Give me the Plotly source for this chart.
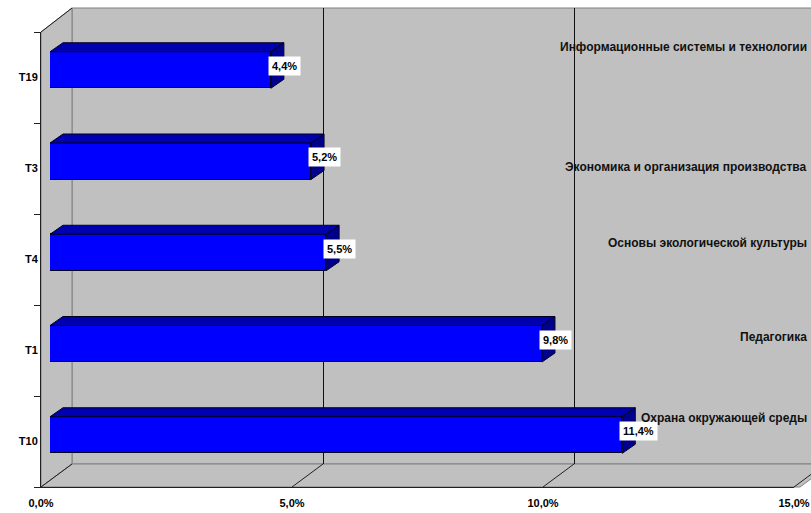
import plotly.graph_objects as go

# ---------------- data ----------------
categories = ["T10", "T1", "T4", "T3", "T19"]          # bottom -> top
values = [11.4, 9.8, 5.5, 5.2, 4.4]                  # percent
course_names = [
    "Охрана окружающей среды",
    "Педагогика",
    "Основы экологической культуры",
    "Экономика и организация производства",
    "Информационные системы и технологии",
]
x_ticks = [0, 5, 10, 15]

# ---------------- geometry / style ----------------
W, H = 811, 513
PX_PER_PCT = 50.2
FONT = "Liberation Sans, Arial, sans-serif"
GRAY = "#C0C0C0"

def fx(px):
    return px / W

def fy(px):
    return 1 - px / H

# front plane
FRONT_X0, FRONT_X15 = 41, 794
FRONT_TOP, FRONT_BOTTOM = 32, 487
# back wall
BACK_X0, BACK_TOP, BACK_BOTTOM = 72, 8, 464
# bar front face
BAR_X0 = 50
BAR_PX_PER_UNIT = 91.25
BAR_Y0_PX = 435          # pixel centre of the first category bar
BAR_W = 0.4
DEPTH_X_PX, DEPTH_Y_PX = 13, 9

y3_r0 = -(H - BAR_Y0_PX) / BAR_PX_PER_UNIT
y3_r1 = y3_r0 + H / BAR_PX_PER_UNIT
dx = DEPTH_X_PX / PX_PER_PCT
dy = DEPTH_Y_PX / BAR_PX_PER_UNIT

fig = go.Figure()

# subplot xy: back wall gridlines (dummy invisible trace)
fig.add_trace(go.Scatter(x=[0], y=[0], xaxis="x", yaxis="y", mode="markers",
                         marker=dict(opacity=0), showlegend=False, hoverinfo="skip"))
# subplot x2y2: front plane axes with category labels
fig.add_trace(go.Scatter(x=[0] * len(categories), y=categories, xaxis="x2", yaxis="y2",
                         mode="markers", marker=dict(opacity=0), showlegend=False,
                         hoverinfo="skip"))

# subplot x3y3: bars
ypos = list(range(len(categories)))
fig.add_trace(go.Bar(
    x=values, y=ypos, orientation="h", width=BAR_W, xaxis="x3", yaxis="y3",
    marker=dict(color="#0000FF", line=dict(color="#000020", width=1)),
    showlegend=False, hoverinfo="skip",
))
for v, yc in zip(values, ypos):
    t = yc + BAR_W / 2
    b = yc - BAR_W / 2
    # top face
    fig.add_trace(go.Scatter(
        x=[0, v, v + dx, dx, 0], y=[t, t, t + dy, t + dy, t],
        xaxis="x3", yaxis="y3", mode="lines", fill="toself",
        fillcolor="#0000AE", line=dict(color="#000020", width=1),
        showlegend=False, hoverinfo="skip"))
    # side face
    fig.add_trace(go.Scatter(
        x=[v, v + dx, v + dx, v, v], y=[b, b + dy, t + dy, t, b],
        xaxis="x3", yaxis="y3", mode="lines", fill="toself",
        fillcolor="#00008C", line=dict(color="#000020", width=1),
        showlegend=False, hoverinfo="skip"))

shapes = []
# back wall
shapes.append(dict(type="rect", xref="paper", yref="paper", layer="below",
                   x0=fx(BACK_X0), x1=fx(W + 20), y0=fy(BACK_BOTTOM), y1=fy(BACK_TOP),
                   fillcolor=GRAY, line=dict(color="#808080", width=1)))
# left wall
shapes.append(dict(type="path", xref="paper", yref="paper", layer="below",
                   path=f"M {fx(FRONT_X0)},{fy(FRONT_TOP)} L {fx(BACK_X0)},{fy(BACK_TOP)} "
                        f"L {fx(BACK_X0)},{fy(BACK_BOTTOM)} L {fx(FRONT_X0)},{fy(FRONT_BOTTOM)} Z",
                   fillcolor=GRAY, line=dict(color="#808080", width=1)))
# floor
shapes.append(dict(type="path", xref="paper", yref="paper", layer="below",
                   path=f"M {fx(FRONT_X0)},{fy(FRONT_BOTTOM)} L {fx(BACK_X0)},{fy(BACK_BOTTOM)} "
                        f"L {fx(W + 20)},{fy(BACK_BOTTOM)} "
                        f"L {fx(FRONT_X15 + (W + 20 - BACK_X0 - 15 * PX_PER_PCT))},{fy(FRONT_BOTTOM)} Z",
                   fillcolor=GRAY, line=dict(color="#808080", width=1)))
# left wall top edge (dark)
shapes.append(dict(type="line", xref="paper", yref="paper", layer="below",
                   x0=fx(FRONT_X0), y0=fy(FRONT_TOP), x1=fx(BACK_X0), y1=fy(BACK_TOP),
                   line=dict(color="#202020", width=1)))
# floor diagonals at each tick
for t in x_ticks:
    xf = FRONT_X0 + t * PX_PER_PCT
    xb = BACK_X0 + t * PX_PER_PCT
    shapes.append(dict(type="line", xref="paper", yref="paper", layer="below",
                       x0=fx(xf), y0=fy(FRONT_BOTTOM), x1=fx(xb), y1=fy(BACK_BOTTOM),
                       line=dict(color="#202020", width=1)))

annotations = []
# value labels
for v, yc in zip(values, ypos):
    annotations.append(dict(
        xref="x3", yref="y3", x=v, y=yc, xanchor="left", yanchor="middle",
        xshift=-3, yshift=4, showarrow=False,
        text=(f"{v:.1f}".replace(".", ",") + "%"),
        font=dict(family=FONT, size=11, color="black", weight="bold"),
        bgcolor="white", borderpad=3,
    ))
# course names on the right
name_label_y_px = [418, 337, 243, 167, 47]
for name, ypx in zip(course_names, name_label_y_px):
    annotations.append(dict(
        xref="paper", yref="paper", x=fx(809), y=fy(ypx), xanchor="right",
        yanchor="middle", showarrow=False, text=name,
        font=dict(family=FONT, size=12, color="#111111", weight="bold"),
    ))

fig.update_layout(
    width=W, height=H,
    margin=dict(l=0, r=0, t=0, b=0, autoexpand=False),
    paper_bgcolor="white", plot_bgcolor="rgba(0,0,0,0)",
    separators=", ",
    showlegend=False,
    bargap=0,
    font=dict(family=FONT, size=11, color="black"),
    # back wall gridlines
    xaxis=dict(domain=[fx(BACK_X0), 1], range=[0, (W - BACK_X0) / PX_PER_PCT],
               tickvals=x_ticks, showticklabels=False, ticks="",
               showgrid=True, gridcolor="#101010", gridwidth=1, zeroline=False,
               showline=False, anchor="y", fixedrange=True, automargin=False),
    yaxis=dict(domain=[fy(BACK_BOTTOM), fy(BACK_TOP)], range=[0, 1],
               showgrid=False, showticklabels=False, zeroline=False, showline=False,
               anchor="x", fixedrange=True, automargin=False),
    # front plane axes
    xaxis2=dict(domain=[fx(FRONT_X0), fx(FRONT_X15)], range=[0, 15],
                tickvals=x_ticks, ticktext=[f"{t:.1f}".replace(".", ",") + "%" for t in x_ticks],
                ticks="outside", ticklen=6, tickcolor="rgba(0,0,0,0)",
                showgrid=False, zeroline=False, showline=True,
                linecolor="#202020", linewidth=1,
                tickfont=dict(family=FONT, size=11, color="black", weight="bold"),
                anchor="y2", fixedrange=True, automargin=False),
    yaxis2=dict(domain=[fy(FRONT_BOTTOM), fy(FRONT_TOP)], type="category",
                categoryorder="array", categoryarray=categories,
                range=[-0.5, len(categories) - 0.5],
                tickson="boundaries", ticks="outside", ticklen=6, tickcolor="#202020",
                showgrid=False, zeroline=False, showline=True,
                linecolor="#202020", linewidth=1,
                tickfont=dict(family=FONT, size=11, color="black", weight="bold"),
                anchor="x2", fixedrange=True, automargin=False),
    # bars
    xaxis3=dict(domain=[fx(BAR_X0), 1], range=[0, (W - BAR_X0) / PX_PER_PCT],
                visible=False, anchor="y3", fixedrange=True),
    yaxis3=dict(domain=[0, 1], range=[y3_r0, y3_r1], visible=False,
                anchor="x3", fixedrange=True),
    shapes=shapes,
    annotations=annotations,
)

fig.write_html("out.html")
